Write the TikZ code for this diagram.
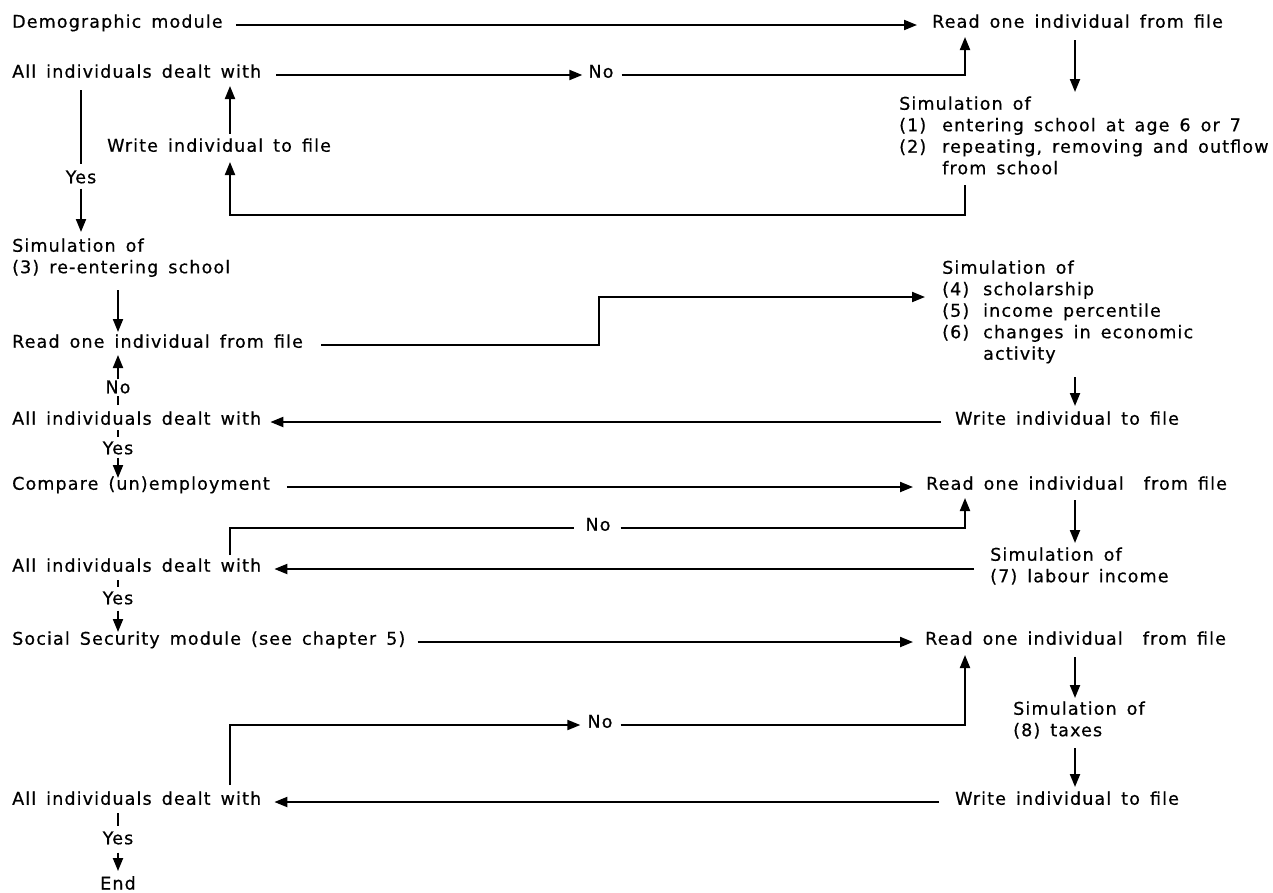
\documentclass[tikz,border=0pt]{standalone}
\usepackage{fontspec}
\usepackage{array}
\setmainfont{DejaVu Sans}[LetterSpace=6.5,WordSpace=1.5,FakeBold=0.6]
\usetikzlibrary{arrows.meta,calc}
\begin{document}
\begin{tikzpicture}[x=1pt,y=1pt,
  every node/.style={font=\fontsize{17.5}{21.5}\selectfont, inner sep=0pt},
  txt/.style={anchor=mid west},
  onh/.style={anchor=mid},
  onv/.style={anchor=center},
  conn/.style={line width=2pt},
  arr/.style={line width=2pt, -{Triangle[length=13pt,width=10pt]}}]
\fill[white] (0,0) rectangle (1273,-892);
\useasboundingbox (0,0) rectangle (1273,-892);
% columns
\coordinate (colA) at (81,0);
\coordinate (colB) at (118,0);
\coordinate (colC) at (230,0);
\coordinate (colD) at (599,0);
\coordinate (colE) at (965,0);
\coordinate (colF) at (1075,0);
% nodes
\node[txt] (L1) at (12,-25) {Demographic module};
\node[txt] (R1) at (932,-25) {Read one individual from file};
\node[txt] (L2) at (12,-75) {All individuals dealt with};
\node[onh] (No1) at (601,-75) {No};
\node[txt] (S1) at (899,-107) {\begin{tabular}[t]{@{}p{43pt}@{}l@{}}
\multicolumn{2}{@{}l@{}}{Simulation of}\\
(1) & entering school at age 6 or 7\\
(2) & repeating, removing and outflow\\
 & from school
\end{tabular}};
\node[txt] (W1) at (107,-149) {Write individual to file};
\node[onv] (Yes1) at (81,-177) {Yes};
\node[txt] (S3) at (12,-249) {\begin{tabular}[t]{@{}l@{}}
Simulation of\\
(3) re-entering school
\end{tabular}};
\node[txt] (S4) at (942,-271) {\begin{tabular}[t]{@{}p{41pt}@{}l@{}}
\multicolumn{2}{@{}l@{}}{Simulation of}\\
(4) & scholarship\\
(5) & income percentile\\
(6) & changes in economic\\
 & activity
\end{tabular}};
\node[txt] (R2) at (12,-345) {Read one individual from file};
\node[onv] (No2) at (118,-387) {No};
\node[txt] (A2) at (12,-422) {All individuals dealt with};
\node[txt] (W2) at (955,-422) {Write individual to file};
\node[onv] (Yes2) at (118,-448) {Yes};
\node[txt] (C) at (12,-487) {Compare (un)employment};
\node[txt] (R3) at (926,-487) {Read one individual\ \ from file};
\node[onh] (No3) at (598,-528) {No};
\node[txt] (S7) at (990,-558) {\begin{tabular}[t]{@{}l@{}}
Simulation of\\
(7) labour income
\end{tabular}};
\node[txt] (A3) at (12,-569) {All individuals dealt with};
\node[onv] (Yes3) at (118,-598) {Yes};
\node[txt] (SS) at (12,-642) {Social Security module (see chapter 5)};
\node[txt] (R4) at (925,-642) {Read one individual\ \ from file};
\node[txt] (S8) at (1013,-712) {\begin{tabular}[t]{@{}l@{}}
Simulation of\\
(8) taxes
\end{tabular}};
\node[onh] (No4) at (600,-725) {No};
\node[txt] (A4) at (12,-802) {All individuals dealt with};
\node[txt] (W4) at (955,-802) {Write individual to file};
\node[onv] (Yes4) at (118,-838) {Yes};
\node[onv] (End) at (118,-883) {End};
% connectors: block 1
\draw[arr] ($(L1.mid east)+(13,0)$) -- ($(R1.mid west)+(-15,0)$);
\draw[arr] ($(L2.mid east)+(15,0)$) -- ($(No1.mid west)+(-6,0)$);
\draw[arr] ($(No1.mid east)+(8,0)$) -| ($(R1.mid -| colE)+(0,-12)$);
\draw[arr] ($(R1.mid -| colF)+(0,-15)$) -- ($(S1.mid -| colF)+(0,15)$);
\draw[arr] ($(S1.mid -| colE)+(0,-78)$) |- ($(W1.mid -| colC)+(0,-66)$) -- ($(W1.mid -| colC)+(0,-13)$);
\draw[arr] ($(W1.mid -| colC)+(0,15)$) -- ($(L2.mid -| colC)+(0,-11)$);
\draw[conn] ($(L2.mid -| colA)+(0,-15)$) -- ($(Yes1.north)+(0,6)$);
\draw[arr] ($(Yes1.south)+(0,-5)$) -- ($(S3.mid -| colA)+(0,17)$);
% block 2
\draw[arr] ($(S3.mid -| colB)+(0,-41)$) -- ($(R2.mid -| colB)+(0,13)$);
\draw[arr] ($(R2.mid east)+(18,0)$) -| ($(S4.mid -| colD)+(0,-26)$) -- ($(S4.mid west)+(-17,-26)$);
\draw[arr] ($(S4.mid -| colF)+(0,-106)$) -- ($(W2.mid -| colF)+(0,16)$);
\draw[arr] ($(W2.mid west)+(-14,0)$) -- ($(A2.mid east)+(9,0)$);
\draw[conn] ($(A2.mid -| colB)+(0,17)$) -- ($(No2.south)+(0,-2)$);
\draw[arr] ($(No2.north)+(0,1)$) -- ($(R2.mid -| colB)+(0,-10)$);
\draw[conn] ($(A2.mid -| colB)+(0,-8)$) -- ($(Yes2.north)+(0,4)$);
\draw[arr] ($(Yes2.south)+(0,-3)$) -- ($(C.mid -| colB)+(0,9)$);
% block 3
\draw[arr] ($(C.mid east)+(17,0)$) -- ($(R3.mid west)+(-13,0)$);
\draw[arr] ($(R3.mid -| colF)+(0,-13)$) -- ($(S7.mid -| colF)+(0,15)$);
\draw[arr] ($(S7.mid west)+(-16,-11)$) -- ($(A3.mid east)+(13,0)$);
\draw[conn] ($(A3.mid -| colC)+(0,14)$) |- ($(No3.mid west)+(-11,0)$);
\draw[arr] ($(No3.mid east)+(10,0)$) -| ($(R3.mid -| colE)+(0,-11)$);
\draw[conn] ($(A3.mid -| colB)+(0,-11)$) -- ($(Yes3.north)+(0,4)$);
\draw[arr] ($(Yes3.south)+(0,-6)$) -- ($(SS.mid -| colB)+(0,10)$);
% block 4
\draw[arr] ($(SS.mid east)+(12,0)$) -- ($(R4.mid west)+(-12,0)$);
\draw[arr] ($(R4.mid -| colF)+(0,-15)$) -- ($(S8.mid -| colF)+(0,14)$);
\draw[arr] ($(S8.mid -| colF)+(0,-36)$) -- ($(W4.mid -| colF)+(0,15)$);
\draw[arr] ($(W4.mid west)+(-16,0)$) -- ($(A4.mid east)+(13,0)$);
\draw[arr] ($(A4.mid -| colC)+(0,17)$) |- ($(No4.mid west)+(-7,0)$);
\draw[arr] ($(No4.mid east)+(8,0)$) -| ($(R4.mid -| colE)+(0,-13)$);
\draw[conn] ($(A4.mid -| colB)+(0,-11)$) -- ($(Yes4.north)+(0,5)$);
\draw[arr] ($(Yes4.south)+(0,-8)$) -- ($(End.north)+(0,5)$);
\end{tikzpicture}
\end{document}
